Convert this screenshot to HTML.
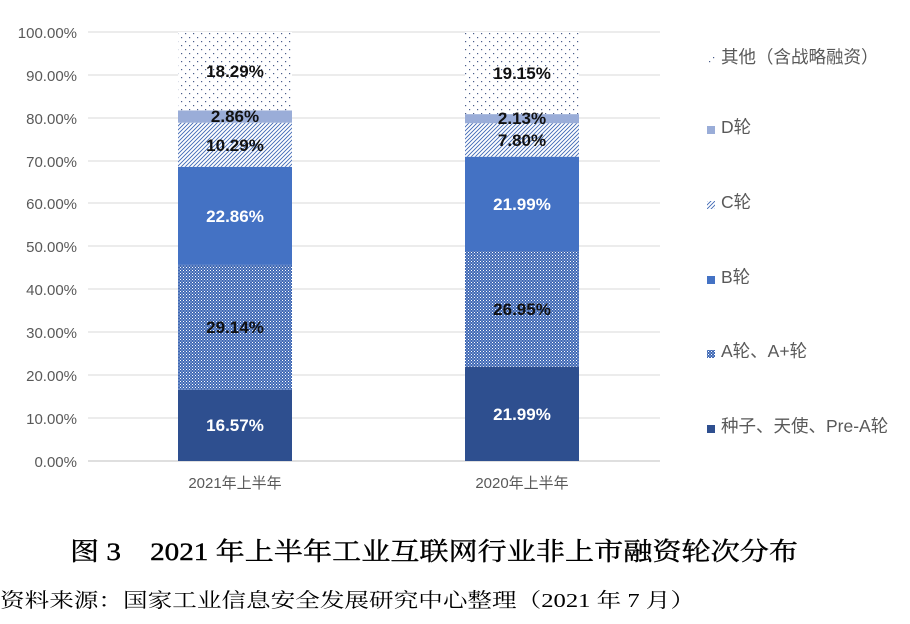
<!DOCTYPE html>
<html><head><meta charset="utf-8"><style>
body{margin:0;background:#fff;width:910px;height:619px;overflow:hidden}
svg text{font-family:"Liberation Sans","Noto Sans CJK SC",sans-serif}
</style></head><body>
<svg width="910" height="619" xmlns="http://www.w3.org/2000/svg">
<defs>
<pattern id="chk" width="3" height="3" patternUnits="userSpaceOnUse"><rect width="3" height="3" fill="#3e67b4"/><rect x="0" y="0" width="1" height="1" fill="#fff"/><rect x="1.5" y="1.5" width="1" height="1" fill="#dfe6f4"/></pattern>
<pattern id="hat" width="4" height="4" patternUnits="userSpaceOnUse"><rect width="4" height="4" fill="#fff"/><path d="M0 4L4 0M-1 1L1 -1M3 5L5 3" stroke="#3e67b4" stroke-width="0.9"/></pattern>
<pattern id="dot" width="8" height="8" patternUnits="userSpaceOnUse"><rect width="8" height="8" fill="#fff"/><rect x="1" y="1" width="1.2" height="1.2" fill="#4a5d8a"/><rect x="5" y="5" width="1.2" height="1.2" fill="#4a5d8a"/></pattern>
</defs>
<g stroke="#d9d9d9" stroke-width="1">
<line x1="88" x2="660" y1="32" y2="32"/><line x1="88" x2="660" y1="75" y2="75"/><line x1="88" x2="660" y1="118" y2="118"/><line x1="88" x2="660" y1="161" y2="161"/><line x1="88" x2="660" y1="203" y2="203"/><line x1="88" x2="660" y1="246" y2="246"/><line x1="88" x2="660" y1="289" y2="289"/><line x1="88" x2="660" y1="332" y2="332"/><line x1="88" x2="660" y1="375" y2="375"/><line x1="88" x2="660" y1="418" y2="418"/>
</g>
<line x1="88" x2="660" y1="461" y2="461" stroke="#bfbfbf"/>
<g font-size="15" fill="#595959" text-anchor="end">
<text x="77" y="38">100.00%</text><text x="77" y="81">90.00%</text><text x="77" y="124">80.00%</text><text x="77" y="167">70.00%</text><text x="77" y="209">60.00%</text><text x="77" y="252">50.00%</text><text x="77" y="295">40.00%</text><text x="77" y="338">30.00%</text><text x="77" y="381">20.00%</text><text x="77" y="424">10.00%</text><text x="77" y="467">0.00%</text>
</g>
<rect x="178" y="389.9" width="114" height="71.1" fill="#2e4f8f"/>
<rect x="178" y="264.9" width="114" height="125" fill="url(#chk)"/>
<rect x="178" y="166.8" width="114" height="98.1" fill="#4472c4"/>
<rect x="178" y="122.7" width="114" height="44.1" fill="url(#hat)"/>
<rect x="178" y="110.4" width="114" height="12.3" fill="#9aadd8"/>
<rect x="178" y="32" width="114" height="78.4" fill="url(#dot)"/>
<rect x="465" y="366.7" width="114" height="94.3" fill="#2e4f8f"/>
<rect x="465" y="251" width="114" height="115.7" fill="url(#chk)"/>
<rect x="465" y="156.7" width="114" height="94.3" fill="#4472c4"/>
<rect x="465" y="123.2" width="114" height="33.5" fill="url(#hat)"/>
<rect x="465" y="114.1" width="114" height="9.1" fill="#9aadd8"/>
<rect x="465" y="32" width="114" height="82.1" fill="url(#dot)"/>
<g font-size="17" text-anchor="middle" font-weight="bold">
<text x="235" y="431" fill="#fff">16.57%</text><text x="235" y="333" fill="#111">29.14%</text><text x="235" y="222" fill="#fff">22.86%</text><text x="235" y="151" fill="#111">10.29%</text><text x="235" y="122" fill="#111">2.86%</text><text x="235" y="77" fill="#111">18.29%</text>
<text x="522" y="420" fill="#fff">21.99%</text><text x="522" y="315" fill="#111">26.95%</text><text x="522" y="210" fill="#fff">21.99%</text><text x="522" y="146" fill="#111">7.80%</text><text x="522" y="124" fill="#111">2.13%</text><text x="522" y="79" fill="#111">19.15%</text>
</g>
<g font-size="15" fill="#595959" text-anchor="middle">
<text x="235" y="488">2021年上半年</text><text x="522" y="488">2020年上半年</text>
</g>
<g font-size="17.5" fill="#595959">
<rect x="707" y="56" width="8" height="8" fill="url(#dot)"/><text x="721" y="63">其他（含战略融资）</text>
<rect x="707" y="126" width="8" height="8" fill="#9aadd8"/><text x="721" y="133">D轮</text>
<rect x="707" y="201" width="8" height="8" fill="url(#hat)"/><text x="721" y="208">C轮</text>
<rect x="707" y="276" width="8" height="8" fill="#4472c4"/><text x="721" y="283">B轮</text>
<rect x="707" y="350" width="8" height="8" fill="url(#chk)"/><text x="721" y="357">A轮、A+轮</text>
<rect x="707" y="425" width="8" height="8" fill="#2e4f8f"/><text x="721" y="432">种子、天使、Pre-A轮</text>
</g>
<text x="70" y="560" font-size="25" fill="#000" stroke="#000" stroke-width="0.4" style="font-family:'Liberation Serif','Noto Serif CJK SC',serif" textLength="728" lengthAdjust="spacingAndGlyphs">图 3　2021 年上半年工业互联网行业非上市融资轮次分布</text>
<text x="0" y="607" font-size="20" fill="#000" style="font-family:'Liberation Serif','Noto Serif CJK SC',serif" textLength="695" lengthAdjust="spacingAndGlyphs">资料来源：国家工业信息安全发展研究中心整理（2021 年 7 月）</text>
</svg>
</body></html>
